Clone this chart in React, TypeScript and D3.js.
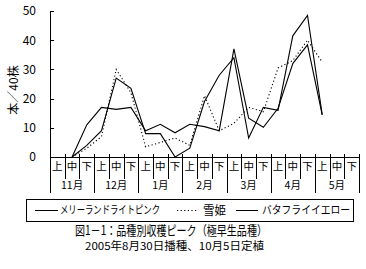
import React from "react";
import * as d3 from "d3";

const categories: string[] = [
  "上","中","下","上","中","下","上","中","下","上","中","下",
  "上","中","下","上","中","下","上","中","下",
];
const months: string[] = ["11月", "12月", "1月", "2月", "3月", "4月", "5月"];
const yTicks: number[] = [0, 10, 20, 30, 40, 50];

type V = number | null;
const maryland: V[] = [null, 0, 4, 9, 27, 23.5, 8, 8, 0, 3, 19, 28, 34, 6.5, 17, 16, 41.5, 48.5, 14.5, null, null];
const yukihime: V[] = [null, 0, 3, 7, 30, 22, 3.5, 5, 6.5, 4, 21, 9, 11.5, 17, 15.5, 30.5, 33, 40, 32.5, null, null];
const butterfly: V[] = [null, 0, 11, 17, 16.3, 17, 9, 11.2, 8.3, 11.2, 10.4, 9, 37, 13.3, 10.2, 16.7, 32, 38.4, 14.4, null, null];

const seriesNames = ["メリーランドライトピンク", "雪姫", "バタフライイエロー"];
const title = "図1－1：品種別収穫ピーク（極早生品種）";
const subtitle = "2005年8月30日播種、10月5日定植";
const yLabel = "本／40株";

const FONT = "'Noto Sans CJK JP', sans-serif";

export default function App() {
  const W = 366, H = 269;
  const x = d3.scaleBand<number>().domain(categories.map((_, i) => i)).range([50, 359]).padding(0);
  const y = d3.scaleLinear().domain([0, 50]).range([157, 11]);
  const cx = (i: number) => (x(i) as number) + x.bandwidth() / 2;
  const line = d3
    .line<V>()
    .defined((d) => d != null)
    .x((_, i) => cx(i))
    .y((d) => y(d as number));

  const axisY = y(0);
  const boundaries = d3.range(categories.length + 1).map((i) =>
    i < categories.length ? (x(i) as number) : 359
  );

  return (
    <svg
      width={W}
      height={H}
      style={{ position: "absolute", left: 0, top: 0, background: "#fff" }}
      fontFamily={FONT}
    >
      <rect x={0} y={0} width={W} height={H} fill="#fff" />
      {/* y axis */}
      <line x1={50.5} x2={50.5} y1={y(50)} y2={axisY} stroke="#000" shapeRendering="crispEdges" />
      {yTicks.map((t) => (
        <g key={t}>
          <line x1={50} x2={54} y1={Math.round(y(t)) + 0.5} y2={Math.round(y(t)) + 0.5} stroke="#000" shapeRendering="crispEdges" />
          <text x={36} y={y(t)} dy="0.36em" textAnchor="end" fontSize={12}>
            {t}
          </text>
        </g>
      ))}
      <text
        transform={`translate(14,90) rotate(-90)`}
        textAnchor="middle"
        dy="0.36em"
        fontSize={12}
      >
        {yLabel}
      </text>
      {/* x axis */}
      <line x1={50} x2={359} y1={Math.round(axisY) + 0.5} y2={Math.round(axisY) + 0.5} stroke="#000" shapeRendering="crispEdges" />
      {boundaries.map((bx, i) => (
        <line
          key={i}
          x1={Math.round(bx) + 0.5}
          x2={Math.round(bx) + 0.5}
          y1={axisY - 3}
          y2={i % 3 === 0 ? 193 : 179}
          stroke="#000"
          shapeRendering="crispEdges"
        />
      ))}
      {categories.map((c, i) => (
        <text key={i} x={cx(i)} y={166} dy="0.36em" textAnchor="middle" fontSize={10.5}>
          {c}
        </text>
      ))}
      {months.map((m, j) => (
        <text key={m} x={cx(j * 3 + 1)} y={185} dy="0.36em" textAnchor="middle" fontSize={10.5}>
          {m}
        </text>
      ))}
      {/* series */}
      <path d={line(maryland) || ""} fill="none" stroke="#000" strokeWidth={1.1} />
      <path d={line(butterfly) || ""} fill="none" stroke="#000" strokeWidth={1.1} />
      <path d={line(yukihime) || ""} fill="none" stroke="#000" strokeWidth={1.1} strokeDasharray="1.2,2.4" />
      {/* legend */}
      <rect x={26.5} y={199.5} width={327} height={22} fill="none" stroke="#000" shapeRendering="crispEdges" />
      <line x1={35} x2={58} y1={210.5} y2={210.5} stroke="#000" />
      <text x={60} y={210.5} dy="0.36em" fontSize={11} textLength={100} lengthAdjust="spacingAndGlyphs">
        {seriesNames[0]}
      </text>
      <line x1={177} x2={198} y1={210.5} y2={210.5} stroke="#000" strokeDasharray="1.2,2.4" />
      <text x={203} y={210.5} dy="0.36em" fontSize={12} textLength={23} lengthAdjust="spacingAndGlyphs">
        {seriesNames[1]}
      </text>
      <line x1={236} x2={258} y1={210.5} y2={210.5} stroke="#000" />
      <text x={262} y={210.5} dy="0.36em" fontSize={11} textLength={88} lengthAdjust="spacingAndGlyphs">
        {seriesNames[2]}
      </text>
      {/* titles */}
      <text x={75} y={230} dy="0.36em" fontSize={13} textLength={192} lengthAdjust="spacingAndGlyphs">
        {title}
      </text>
      <text x={85} y={246.5} dy="0.36em" fontSize={11} textLength={179} lengthAdjust="spacingAndGlyphs">
        {subtitle}
      </text>
    </svg>
  );
}
